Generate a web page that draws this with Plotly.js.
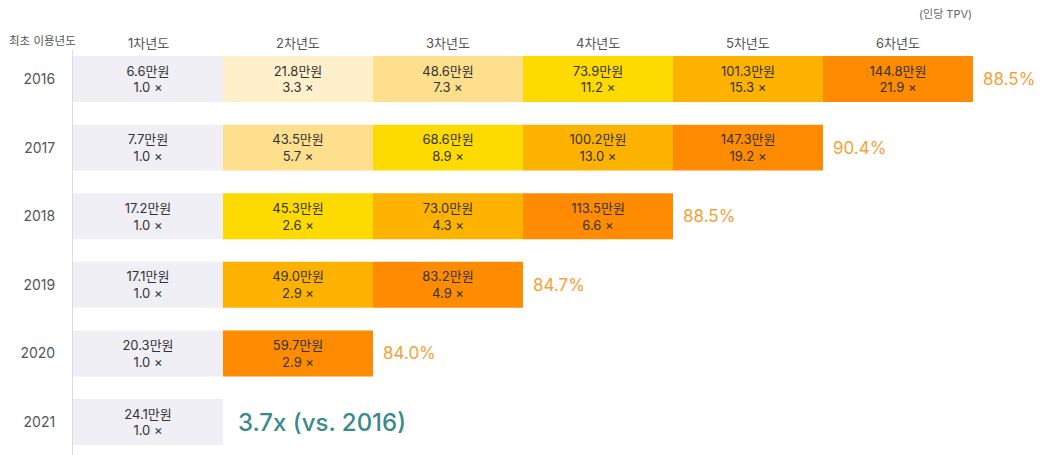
<!DOCTYPE html>
<html>
<head>
<meta charset="utf-8">
<script src="https://cdn.plot.ly/plotly-3.0.1.min.js"></script>
<style>html,body{margin:0;padding:0;background:#fff;}#chart{width:1042px;height:455px;}</style>
</head>
<body>
<div id="chart"></div>
<script>
const years = ['2016','2017','2018','2019','2020','2021'];
const headers = ['1차년도','2차년도','3차년도','4차년도','5차년도','6차년도'];
const amounts = [
  [6.6, 21.8, 48.6, 73.9, 101.3, 144.8],
  [7.7, 43.5, 68.6, 100.2, 147.3],
  [17.2, 45.3, 73.0, 113.5],
  [17.1, 49.0, 83.2],
  [20.3, 59.7],
  [24.1]
];
const multiples = [
  [1.0, 3.3, 7.3, 11.2, 15.3, 21.9],
  [1.0, 5.7, 8.9, 13.0, 19.2],
  [1.0, 2.6, 4.3, 6.6],
  [1.0, 2.9, 4.9],
  [1.0, 2.9],
  [1.0]
];
const retention = [88.5, 90.4, 88.5, 84.7, 84.0];
const growthNote = '3.7x (vs. 2016)';
const unitNote = '(인당 TPV)';
const rowHeader = '최초 이용년도';

const FONT = 'Inter, Noto Sans CJK KR, sans-serif';
const baseColor = '#efeff5';
const shades = ['#fef0cb', '#fedf8e', '#fedb00', '#feb200', '#fe8b00'];

function cellColor(rowLen, j) {
  if (j === 0) return baseColor;
  return shades[4 - (rowLen - 1 - j)];
}

const traces = [];
for (let c = 0; c < headers.length; c++) {
  const ys = [], xs = [], bases = [], texts = [], colors = [];
  amounts.forEach((row, r) => {
    if (c < row.length) {
      ys.push(r); xs.push(1); bases.push(c);
      texts.push(row[c].toFixed(1) + '만원<br>' + multiples[r][c].toFixed(1) + ' ×');
      colors.push(cellColor(row.length, c));
    }
  });
  traces.push({
    type: 'bar', orientation: 'h', y: ys, x: xs, base: bases, width: 0.67,
    marker: {color: colors, line: {width: 0}},
    text: texts, textposition: 'inside', insidetextanchor: 'middle',
    textangle: 0, constraintext: 'none',
    textfont: {family: FONT, size: 13, color: '#333'},
    hoverinfo: 'skip', showlegend: false
  });
}

// paper coords from pixels: plot top 50px, height 405px; left 73px, width 969px
const py = (px) => 1 + (50 - px) / 405;
const pxp = (px) => (px - 73) / 969;
const annotations = [];
headers.forEach((h, c) => annotations.push({
  x: c + 0.5, y: py(43), xref: 'x', yref: 'paper', yanchor: 'middle', text: h, showarrow: false,
  font: {family: FONT, size: 13, color: '#555'}
}));
annotations.push({x: pxp(42), y: py(41), xref: 'paper', yref: 'paper', xanchor: 'center', yanchor: 'middle',
  text: rowHeader, showarrow: false, font: {family: FONT, size: 11.5, color: '#555'}});
annotations.push({x: pxp(945), y: py(14), xref: 'paper', yref: 'paper', xanchor: 'center', yanchor: 'middle',
  text: unitNote, showarrow: false, font: {family: FONT, size: 11, color: '#666'}});
retention.forEach((v, r) => annotations.push({
  x: amounts[r].length, y: r, xref: 'x', yref: 'y', xanchor: 'left', xshift: 8,
  text: v.toFixed(1) + '%', showarrow: false,
  font: {family: FONT, size: 17, color: '#f6a038'}
}));
annotations.push({x: amounts[5].length, y: 5, xref: 'x', yref: 'y', xanchor: 'left', xshift: 13,
  text: growthNote, showarrow: false,
  font: {family: FONT, size: 24, color: '#3a8a8c', weight: 500}});

const layout = {
  width: 1042, height: 455,
  margin: {l: 73, r: 0, t: 50, b: 0},
  paper_bgcolor: '#fff', plot_bgcolor: '#fff',
  barmode: 'overlay',
  xaxis: {range: [0, 6.46], visible: false, fixedrange: true},
  yaxis: {
    range: [5.481, -0.423], tickvals: years.map((_, i) => i), ticktext: years,
    showgrid: false, zeroline: false, showline: true, linecolor: '#dcdcdc', linewidth: 1,
    ticks: 'outside', ticklen: 14, tickcolor: 'rgba(0,0,0,0)',
    tickfont: {family: FONT, size: 14, color: '#555'}, fixedrange: true
  },
  annotations: annotations,
  font: {family: FONT}
};

Plotly.newPlot('chart', traces, layout, {displayModeBar: false, staticPlot: true});
</script>
</body>
</html>
